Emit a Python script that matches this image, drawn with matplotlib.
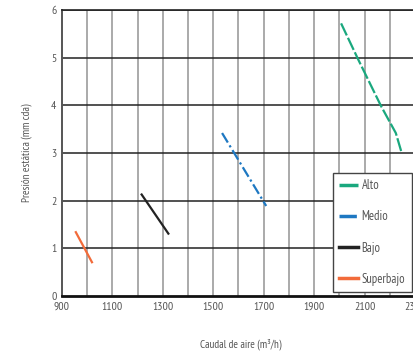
"""Presión estática vs caudal de aire por velocidad de ventilador."""

import matplotlib

matplotlib.use("Agg")
import matplotlib.pyplot as plt

plt.rcParams["font.family"] = ["PT Sans Narrow", "Roboto Condensed", "DejaVu Sans"]
plt.rcParams["font.weight"] = "normal"

# curvas (caudal m3/h, presión mm cda)
alto_x = [2007, 2076, 2166, 2224, 2248]
alto_y = [5.72, 4.95, 3.98, 3.42, 2.99]
medio_x = [1535, 1710]
medio_y = [3.42, 1.89]
bajo_x = [1216, 1322]
bajo_y = [2.13, 1.31]
superbajo_x = [955, 1019]
superbajo_y = [1.34, 0.71]

x_ticks = [900, 1100, 1300, 1500, 1700, 1900, 2100, 2300]
y_ticks = [0, 1, 2, 3, 4, 5, 6]

TEXT = "#555555"

fig = plt.figure(figsize=(4.13, 3.58), dpi=100)
ax = fig.add_axes([0.150, 0.173, 0.867, 0.799])

ax.set_xlim(900, 2320)
ax.set_ylim(0, 6)

for xv in range(1000, 2400, 100):
    ax.axvline(xv, color="#aaaaaa", linewidth=1.4, zorder=1)
for yv in y_ticks[1:]:
    ax.axhline(yv, color="#222222", linewidth=1.1, zorder=1)

ax.plot(alto_x, alto_y, color="#1aa87e", linewidth=1.6,
        dashes=(6, 1.2), label="Alto", zorder=3)
ax.plot(medio_x, medio_y, color="#1e78c2", linewidth=1.6,
        dashes=(5, 1.5, 1, 1.5), label="Medio", zorder=3)
ax.plot(bajo_x, bajo_y, color="#222222", linewidth=1.6, label="Bajo", zorder=3)
ax.plot(superbajo_x, superbajo_y, color="#f26b3a", linewidth=1.6,
        label="Superbajo", zorder=3)

ax.set_xticks(x_ticks)
ax.set_xticklabels([str(v) for v in x_ticks])
ax.set_yticks(y_ticks)
ax.tick_params(length=0, labelsize=8.5, colors=TEXT, pad=4)

ax.spines["right"].set_visible(False)
ax.spines["left"].set_color("#555555")
ax.spines["left"].set_linewidth(1.4)
ax.spines["bottom"].set_color("#111111")
ax.spines["bottom"].set_linewidth(2.0)
ax.spines["top"].set_color("#222222")
ax.spines["top"].set_linewidth(1.2)

ax.set_ylabel("Presión estática (mm cda)", fontsize=8, color=TEXT, labelpad=14)
ax.set_xlabel("Caudal de aire (m³/h)", fontsize=8, color=TEXT, labelpad=19)

leg = fig.legend(
    loc="upper left",
    bbox_to_anchor=(333 / 413, 1 - 173 / 358),
    fontsize=9,
    handlelength=1.5,
    handletextpad=0.3,
    labelspacing=1.45,
    borderpad=0.5,
    borderaxespad=0,
    fancybox=False,
    framealpha=1,
    edgecolor="#444444",
)
leg.get_frame().set_linewidth(1.0)
for text in leg.get_texts():
    text.set_color(TEXT)
for line in leg.get_lines():
    line.set_linewidth(2.5)

fig.savefig("out.png", dpi=100)
